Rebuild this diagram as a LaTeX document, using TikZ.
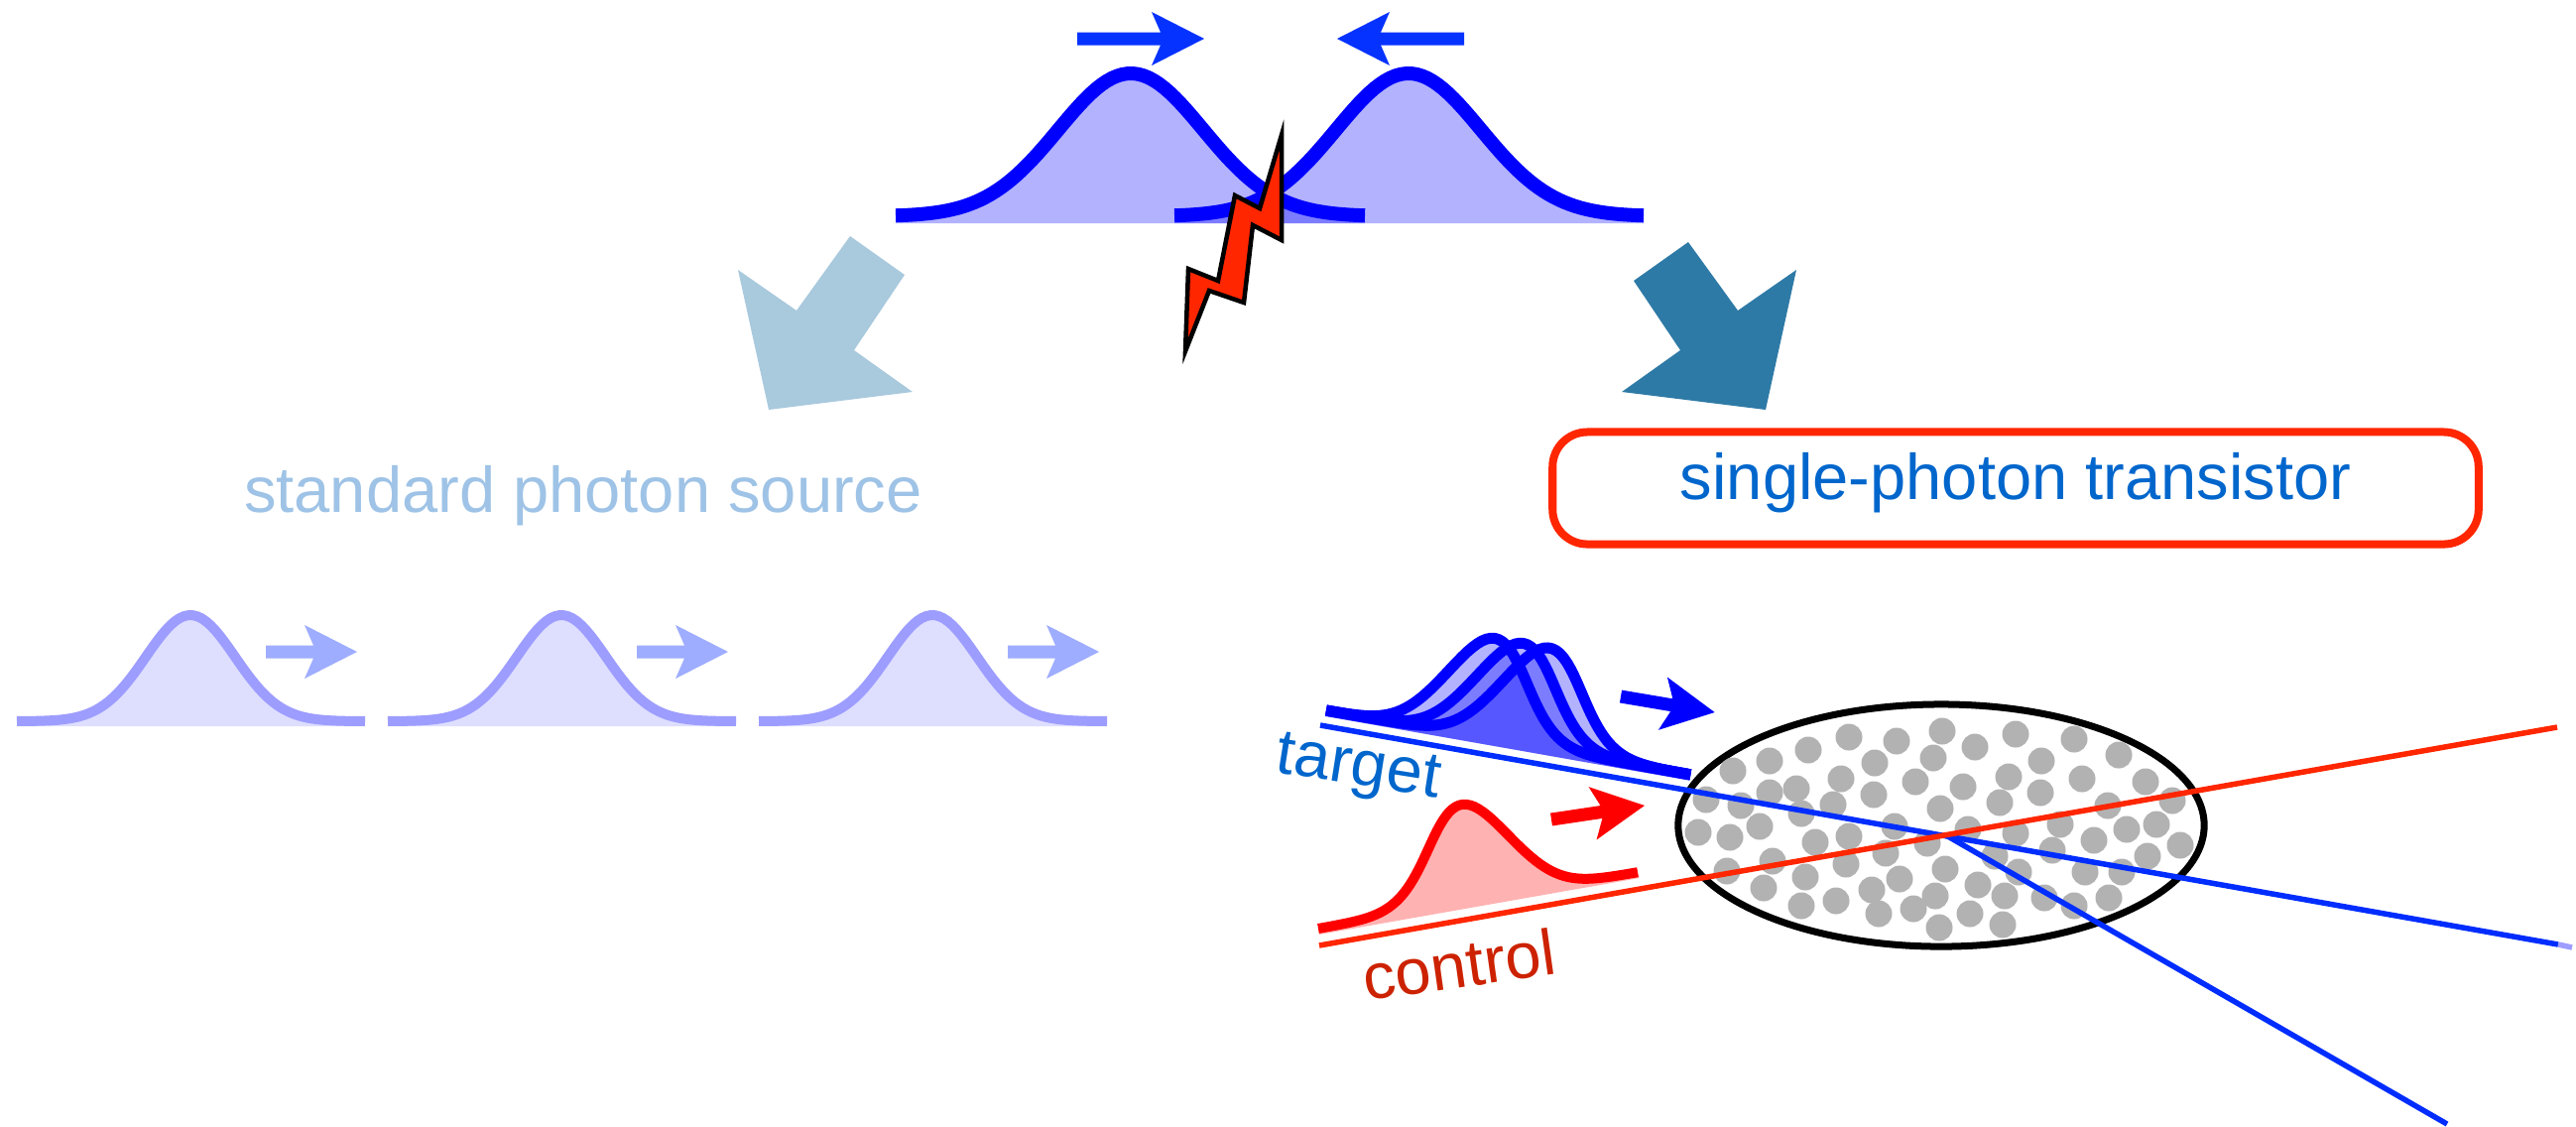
\documentclass[tikz,border=0pt]{standalone}
\usepackage{fontspec}
\setmainfont{Liberation Sans}
\usetikzlibrary{calc,shapes.geometric}

\definecolor{pulseblue}{RGB}{0,0,255}
\definecolor{arrowblue}{RGB}{5,50,255}
\definecolor{beamblue}{RGB}{0,45,255}
\definecolor{beamred}{RGB}{255,38,0}
\definecolor{labelblue}{RGB}{0,102,204}
\definecolor{labelred}{RGB}{204,34,0}
\definecolor{paletext}{RGB}{158,195,230}
\definecolor{paleline}{RGB}{157,157,255}
\definecolor{palefill}{RGB}{222,222,255}
\definecolor{palearrow}{RGB}{158,173,255}
\definecolor{lightsteel}{RGB}{169,201,221}
\definecolor{darksteel}{RGB}{46,122,166}
\definecolor{atomgray}{RGB}{178,178,178}

\tikzstyle{topcurve} = [draw=pulseblue, line width=0.14cm, line join=round]
\tikzstyle{stdcurve} = [draw=paleline, line width=0.10cm, line join=round]
\tikzstyle{tgtcurve} = [draw=pulseblue, line width=0.11cm, line join=round]
\tikzstyle{ctlcurve} = [draw=red, line width=0.10cm, line join=round]
\tikzstyle{beam} = [line width=0.055cm]
\tikzstyle{dot} = [fill=atomgray]
\tikzstyle{bolt} = [fill=beamred, draw=black, line width=0.045cm, line join=miter]
\tikzstyle{transistor} = [rectangle, rounded corners=0.35cm, draw=beamred, line width=0.08cm, minimum width=9.33cm, minimum height=1.13cm, text=labelblue, text height=0.74em, text depth=0.1em]
\tikzstyle{atomcloud} = [ellipse, draw=black, line width=0.07cm, minimum width=5.3cm, minimum height=2.44cm, inner sep=0pt]

% block arrow along +x, #1 = total length
\tikzset{pics/fatarrow/.style={code={
  \fill (0,-6.5) -- ({#1-44},-6.5) -- ({#1-53},-27) -- (#1,0) -- ({#1-53},27) -- ({#1-44},6.5) -- (0,6.5) -- cycle;
}}}

\begin{document}
\begin{tikzpicture}[x=0.01cm, y=-0.01cm, font=\fontsize{18.5}{22}\selectfont]
\useasboundingbox (0,0) rectangle (2597,1135);

% two colliding pulses
\fill[pulseblue, opacity=0.3] (903,225) -- plot[domain=903:1376,samples=90] (\x,{218-144*exp(-0.5*((\x-1140)/73)^2)}) -- (1376,225) -- cycle;
\fill[pulseblue, opacity=0.3] (1184,225) -- plot[domain=1184:1657,samples=90] (\x,{218-144*exp(-0.5*((\x-1420)/73)^2)}) -- (1657,225) -- cycle;
\draw[topcurve] plot[domain=903:1376,samples=90] (\x,{218-144*exp(-0.5*((\x-1140)/73)^2)});
\draw[topcurve] plot[domain=1184:1657,samples=90] (\x,{218-144*exp(-0.5*((\x-1420)/73)^2)});
\pic[fill=arrowblue] at (1086,39) {fatarrow=128};
\pic[fill=arrowblue, rotate=180] at (1476,39) {fatarrow=128};

\draw[bolt] (1292,136) -- (1292,242) -- (1263,227) -- (1254,305) -- (1219,293) -- (1195,354) -- (1198,271) -- (1228,283) -- (1245,197) -- (1270,210) -- cycle;

% the two outcomes
\fill[lightsteel] (857,238) -- (912,277) -- (861,353) -- (920,395) -- (775,413) -- (744,272) -- (803,313) -- cycle;
\fill[darksteel] (1702,244) -- (1752,313) -- (1811,272) -- (1780,413) -- (1635,395) -- (1694,353) -- (1647,283) -- cycle;

\node[anchor=base, text=paletext] (std) at (588,516) {standard photon source};
\node[transistor] (spt) at (2032,492) {single-photon transistor};

% train of ordinary pulses
\foreach \s in {0,374,748} {
  \begin{scope}[shift={(\s,0)}]
    \fill[palefill] (17,732) -- plot[domain=17:368,samples=80] (\x,{727-107*exp(-0.5*((\x-192)/45)^2)}) -- (368,732) -- cycle;
    \draw[stdcurve] plot[domain=17:368,samples=80] (\x,{727-107*exp(-0.5*((\x-192)/45)^2)});
    \pic[fill=palearrow] at (268,657) {fatarrow=92};
  \end{scope}
}

% medium
\node[atomcloud] (cloud) at (1957,832) {};
\foreach \x/\y in {1958/737,2032/740,2091/745,1864/743,1912/747,1823/756,1991/753,1784/767,1747/777,1890/769,
  1949/764,2058/767,2136/761,2025/783,2099/785,2163/788,1856/785,1931/788,1979/793,1811/795,
  1784/799,1720/806,1755/812,1848/811,1889/801,1956/815,2016/809,2057/799,2125/812,2190/807,
  1816/820,1712/839,1744/844,1774/833,1830/849,1864/843,1910/833,1943/850,1984/836,2032/840,
  2077/831,2111/847,2144/836,2174/831,2198/852,1901/860,2011/863,2069/857,2165/863,1741/878,
  1787/868,1861/871,1961/876,2035/879,2102/879,2139/879,1820/884,1915/886,1994/892,1778/895,
  1887/897,1951/903,2021/903,2061/905,2126/905,1851/908,1816/913,1894/921,1929/916,1986/921,
  2091/913,1955/935,2019/932}
  \fill[dot] (\x,\y) circle[radius=0.135cm];

% target pulses
\begin{scope}[shift={(1337,716)}, rotate=-10]
  \foreach \c in {155,184,211}
    \fill[pulseblue, opacity=0.3] (0,6) -- plot[domain=0:373,samples=90] (\x,{-101*exp(-0.5*((\x-\c)/40)^2)}) -- (373,6) -- cycle;
  \foreach \c in {155,184,211}
    \draw[tgtcurve] plot[domain=0:373,samples=90] (\x,{-101*exp(-0.5*((\x-\c)/40)^2)});
\end{scope}
\pic[fill=pulseblue, rotate=-9.6] at (1634,702) {fatarrow=96};

% control pulse
\begin{scope}[shift={(1329,936)}, rotate=10]
  \fill[red, opacity=0.3] (0,6) -- plot[domain=0:327,samples=90] (\x,{-98*exp(-0.5*((\x-164)/41)^2)}) -- (327,6) -- cycle;
  \draw[ctlcurve] plot[domain=0:327,samples=90] (\x,{-98*exp(-0.5*((\x-164)/41)^2)});
\end{scope}
\pic[fill=red, rotate=8.5] at (1564,826) {fatarrow=95};

% beams
\coordinate (tgtin) at (1331,731);
\coordinate (tgtout) at (2579,952);
\coordinate (tgtend) at (2593,955);
\coordinate (cross) at (1962,842);
\coordinate (scatout) at (2467,1133);
\coordinate (ctlin) at (1330,953);
\coordinate (ctlout) at (2578,733);
\draw[beam, beamblue] (tgtin) -- (tgtout);
\draw[beam, paleline] (tgtout) -- (tgtend);
\draw[beam, beamblue] (cross) -- (scatout);
\draw[beam, beamred] (ctlin) -- (ctlout);

\node[anchor=base, rotate=-9, text=labelblue] (tgt) at (1367,791) {target};
\node[anchor=base, rotate=8, text=labelred] (ctl) at (1474,995) {control};

\end{tikzpicture}
\end{document}
